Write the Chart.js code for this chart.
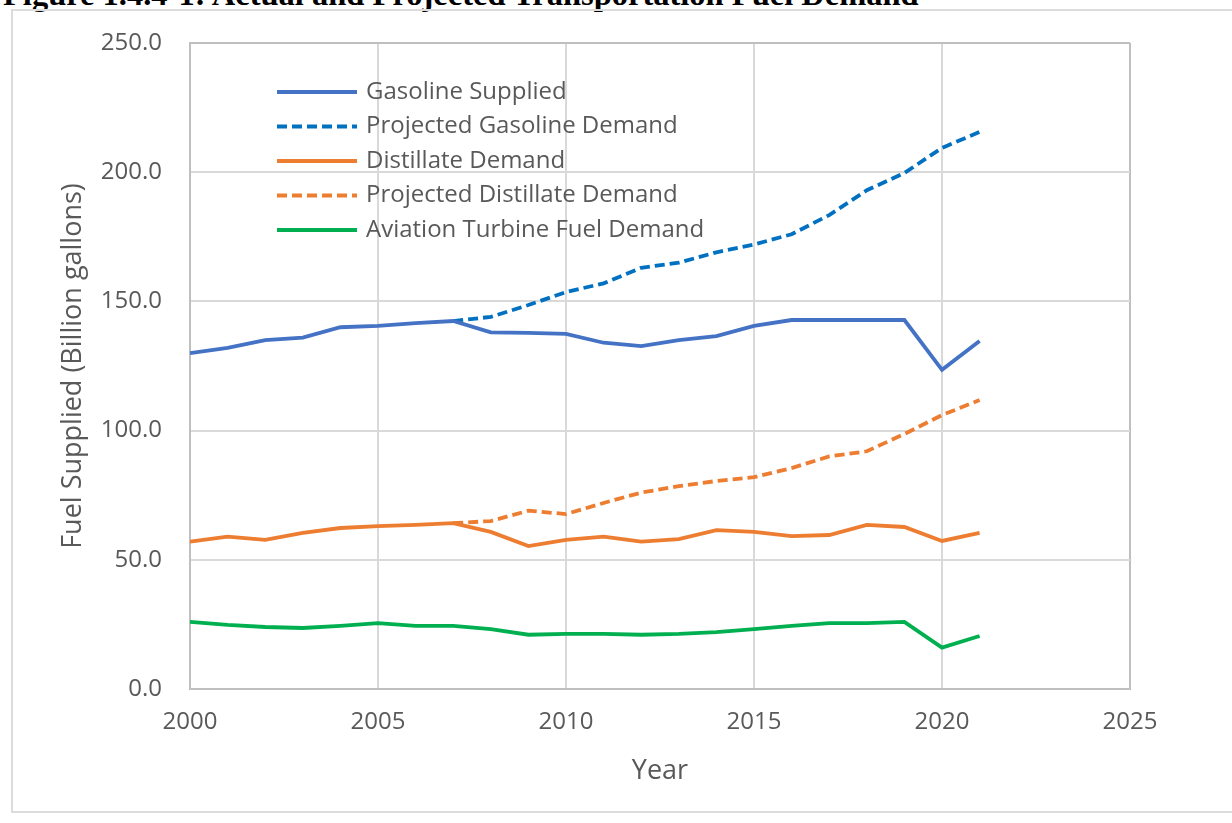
<!DOCTYPE html>
<html>
<head>
<meta charset="utf-8">
<script src="https://cdn.jsdelivr.net/npm/chart.js@4.4.1/dist/chart.umd.min.js"></script>
<style>
  body { margin: 0; background: #fff; overflow: hidden; }
  #title {
    position: absolute; left: 3px; top: -22px; white-space: nowrap;
    font: bold 32.5px/32px "Liberation Serif", "Times New Roman", serif; color: #000;
  }
  #frame {
    position: absolute; left: 11px; top: 9px; width: 1240px; height: 804px;
    border: 2px solid #dcdcdc; box-sizing: border-box;
  }
  #wrap { position: absolute; left: 0; top: 0; width: 1232px; height: 823px; }
</style>
</head>
<body>
<div id="title">Figure 1.4.4-1: Actual and Projected Transportation Fuel Demand</div>
<div id="frame"></div>
<div id="wrap"><canvas id="chart" width="1232" height="823"></canvas></div>
<script>
const years = [2000, 2001, 2002, 2003, 2004, 2005, 2006, 2007, 2008, 2009, 2010,
  2011, 2012, 2013, 2014, 2015, 2016, 2017, 2018, 2019, 2020, 2021];

const gasolineSupplied = [130, 132, 135, 136, 140, 140.5, 141.6, 142.4, 138, 137.8, 137.4,
  134, 132.7, 135, 136.6, 140.5, 142.8, 142.8, 142.8, 142.8, 123.5, 134.7];
const projectedGasoline = [null, null, null, null, null, null, null, 142.4, 144, 148.6, 153.6,
  157, 163, 165, 169, 172, 176, 183.4, 193, 199.7, 209.4, 215.6];
const distillateDemand = [57, 59, 57.7, 60.4, 62.3, 63, 63.5, 64.2, 60.8, 55.3, 57.7,
  59, 57, 58, 61.5, 60.8, 59.2, 59.6, 63.5, 62.7, 57.3, 60.4];
const projectedDistillate = [null, null, null, null, null, null, null, 64.2, 65, 69, 67.7,
  72, 76, 78.5, 80.5, 82, 85.5, 90, 92, 98.7, 106, 111.8];
const aviationFuel = [26, 24.8, 24, 23.6, 24.4, 25.5, 24.4, 24.4, 23.2, 21, 21.3,
  21.3, 21, 21.3, 22, 23.2, 24.4, 25.5, 25.5, 26, 16, 20.5];

const xTicks = [2000, 2005, 2010, 2015, 2020, 2025];
const yTicks = [0, 50, 100, 150, 200, 250];

const FONT = '"Open Sans", "Noto Sans", sans-serif';
const TEXT = "#595959";

function toPoints(values) {
  return years.map((yr, i) => ({ x: yr, y: values[i] })).filter(p => p.y !== null);
}

function series(label, values, color, dashed) {
  return {
    label,
    data: toPoints(values),
    borderColor: color,
    backgroundColor: color,
    borderWidth: 3.8,
    borderDash: dashed ? [10, 5] : [],
    pointRadius: 0,
    tension: 0,
    fill: false
  };
}

// legend drawn inside the plot area, top-left
const insideLegend = {
  id: "insideLegend",
  afterDraw(chart) {
    const ctx = chart.ctx;
    const x0 = chart.chartArea.left + 87;
    let y = chart.chartArea.top + 49;
    ctx.save();
    ctx.font = "24px " + FONT;
    ctx.textBaseline = "middle";
    chart.data.datasets.forEach(ds => {
      ctx.strokeStyle = ds.borderColor;
      ctx.lineWidth = 3.8;
      ctx.setLineDash(ds.borderDash.length ? [10, 5] : []);
      ctx.beginPath();
      ctx.moveTo(x0, y);
      ctx.lineTo(x0 + 80, y);
      ctx.stroke();
      ctx.setLineDash([]);
      ctx.fillStyle = TEXT;
      ctx.fillText(ds.label, x0 + 89, y);
      y += 34.5;
    });
    ctx.restore();
  }
};

const edgeColor = (isEdge) => isEdge ? "#bfbfbf" : "#d9d9d9";

new Chart(document.getElementById("chart"), {
  type: "line",
  data: {
    datasets: [
      series("Gasoline Supplied", gasolineSupplied, "#4472C4", false),
      series("Projected Gasoline Demand", projectedGasoline, "#0070C0", true),
      series("Distillate Demand", distillateDemand, "#ED7D31", false),
      series("Projected Distillate Demand", projectedDistillate, "#ED7D31", true),
      series("Aviation Turbine Fuel Demand", aviationFuel, "#00B050", false)
    ]
  },
  options: {
    responsive: false,
    animation: false,
    layout: { padding: { left: 57, top: 43, right: 102, bottom: 35 } },
    plugins: { legend: { display: false }, tooltip: { enabled: false } },
    scales: {
      x: {
        type: "linear",
        min: 2000,
        max: 2025,
        afterBuildTicks: s => { s.ticks = xTicks.map(v => ({ value: v })); },
        afterFit: s => { s.height = 99; },
        ticks: {
          color: TEXT, font: { family: FONT, size: 24 }, padding: 19,
          maxRotation: 0, callback: v => String(v)
        },
        grid: {
          drawTicks: false, lineWidth: 2,
          color: c => edgeColor(c.tick && (c.tick.value === 2025))
        },
        border: { color: "#bfbfbf", width: 2 },
        title: {
          display: true, text: "Year", color: TEXT,
          font: { family: FONT, size: 27 }, padding: 0
        }
      },
      y: {
        min: 0,
        max: 250,
        afterBuildTicks: s => { s.ticks = yTicks.map(v => ({ value: v })); },
        afterFit: s => { s.width = 133; },
        ticks: {
          color: TEXT, font: { family: FONT, size: 24 }, padding: 28,
          callback: v => v.toFixed(1)
        },
        grid: {
          drawTicks: false, lineWidth: 2,
          color: c => edgeColor(c.tick && (c.tick.value === 250))
        },
        border: { color: "#bfbfbf", width: 2 },
        title: {
          display: true, text: "Fuel Supplied (Billion gallons)", color: TEXT,
          font: { family: FONT, size: 27 }, padding: 0
        }
      }
    }
  },
  plugins: [insideLegend]
});
</script>
</body>
</html>
